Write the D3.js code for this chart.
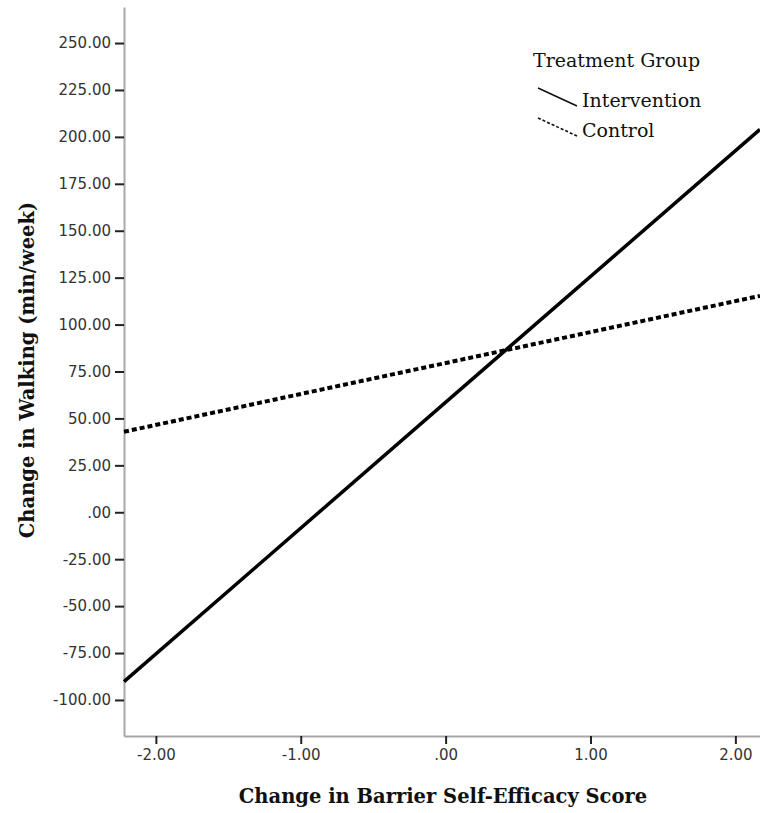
<!DOCTYPE html>
<html>
<head>
<meta charset="utf-8">
<script src="https://cdn.jsdelivr.net/npm/d3@7"></script>
<style>
  body { margin: 0; background: #fff; }
</style>
</head>
<body>
<svg width="760" height="813"></svg>
<script>
// values
var xEnds = [-2.22, 2.17];
var intervention = [-90.2, 204.0];
var control = [42.9, 115.3];
var yTicks = [-100, -75, -50, -25, 0, 25, 50, 75, 100, 125, 150, 175, 200, 225, 250];
var xTicks = [-2, -1, 0, 1, 2];
var groups = ["Intervention", "Control"];

var svg = d3.select("svg");

var x = d3.scaleLinear().domain([-2.22, 2.17]).range([124, 760]);
var y = d3.scaleLinear().domain([-119.2, 269.2]).range([736, 7]);

// SPSS style labels: ".00" not "0.00", plain hyphen for minus
function spss(d) {
    var s = Math.abs(d).toFixed(2).replace(/^0\./, ".");
    return (d < 0 ? "-" : "") + s;
}

var yAxis = d3.axisLeft(y).tickValues(yTicks).tickFormat(spss).tickSize(9).tickSizeOuter(0).tickPadding(4);
var xAxis = d3.axisBottom(x).tickValues(xTicks).tickFormat(spss).tickSize(8).tickSizeOuter(0).tickPadding(5);

var gy = svg.append("g")
    .attr("transform", "translate(124,0)")
    .call(yAxis);

var gx = svg.append("g")
    .attr("transform", "translate(0,736)")
    .call(xAxis);

[gx, gy].forEach(function (g) {
    g.select(".domain").attr("stroke", "#a8a8a8").attr("stroke-width", 2);
    g.selectAll(".tick line").attr("stroke", "#222").attr("stroke-width", 2);
    g.selectAll(".tick text")
        .attr("fill", "#333")
        .attr("font-family", "DejaVu Sans")
        .attr("font-size", 15);
});

// regression lines
var line = d3.line()
    .x(function (d) { return x(d[0]); })
    .y(function (d) { return y(d[1]); });

svg.append("path")
    .datum(d3.zip(xEnds, control))
    .attr("d", line)
    .attr("fill", "none")
    .attr("stroke", "#000")
    .attr("stroke-width", 4)
    .attr("stroke-dasharray", "5,3");

svg.append("path")
    .datum(d3.zip(xEnds, intervention))
    .attr("d", line)
    .attr("fill", "none")
    .attr("stroke", "#000")
    .attr("stroke-width", 3.5);

// axis titles
svg.append("text")
    .attr("x", 443)
    .attr("y", 803)
    .attr("text-anchor", "middle")
    .attr("font-family", "DejaVu Serif")
    .attr("font-weight", "bold")
    .attr("font-size", 19.5)
    .attr("fill", "#111")
    .text("Change in Barrier Self-Efficacy Score");

svg.append("text")
    .attr("transform", "translate(34,370) rotate(-90)")
    .attr("text-anchor", "middle")
    .attr("font-family", "DejaVu Serif")
    .attr("font-weight", "bold")
    .attr("font-size", 19.5)
    .attr("fill", "#111")
    .text("Change in Walking (min/week)");

// legend
var legend = svg.append("g").attr("font-family", "DejaVu Serif").attr("fill", "#111");

legend.append("text")
    .attr("x", 533)
    .attr("y", 67)
    .attr("font-size", 19)
    .text("Treatment Group");

var item = legend.selectAll(".item")
    .data(groups)
    .enter()
    .append("g")
    .attr("transform", function (d, i) { return "translate(0," + (i * 30) + ")"; });

item.append("line")
    .attr("x1", 538).attr("y1", 88)
    .attr("x2", 577).attr("y2", 106)
    .attr("stroke", "#111")
    .attr("stroke-width", 1.6)
    .attr("stroke-dasharray", function (d) { return d == "Control" ? "3,2" : null; });

item.append("text")
    .attr("x", 582)
    .attr("y", 107)
    .attr("font-size", 19)
    .text(function (d) { return d; });
</script>
</body>
</html>
